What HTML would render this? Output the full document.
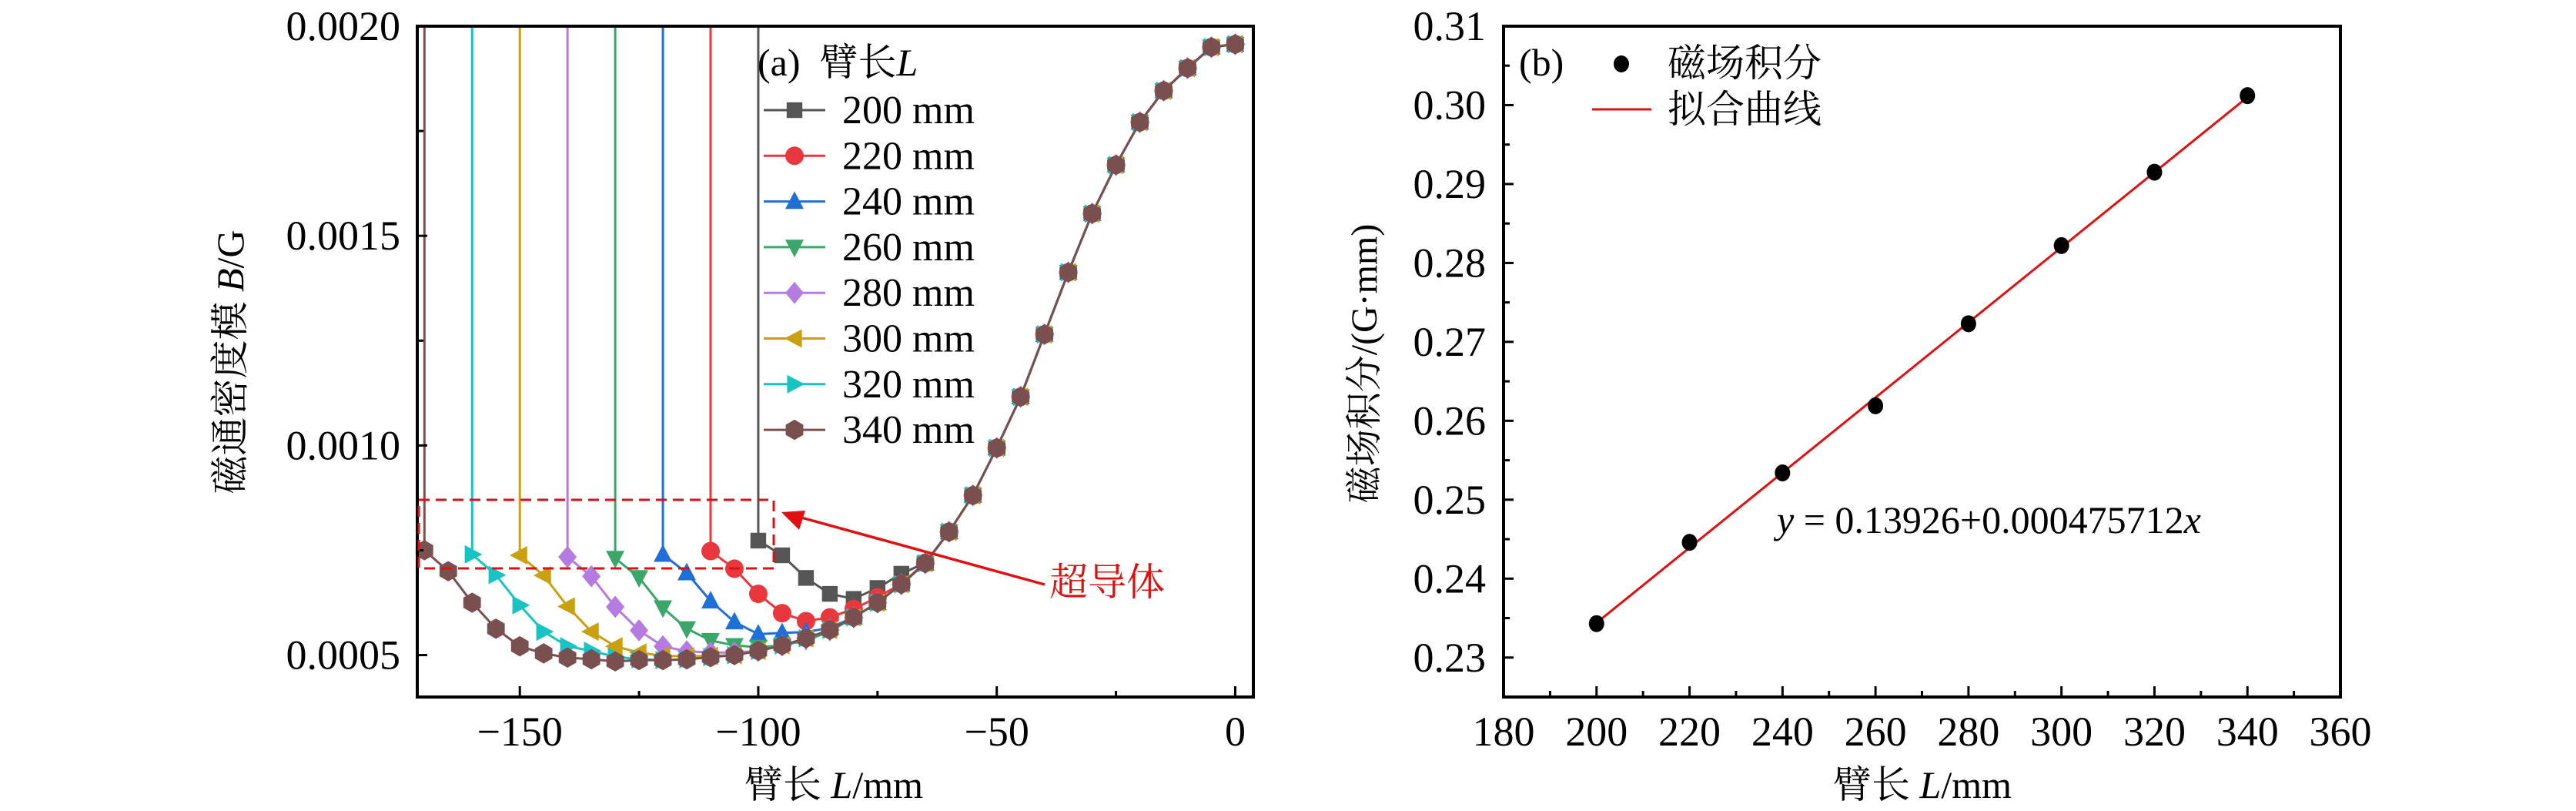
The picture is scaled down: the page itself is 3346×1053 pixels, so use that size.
<!DOCTYPE html>
<html><head><meta charset="utf-8"><style>
html,body{margin:0;padding:0;background:#fff;}
svg{display:block;font-family:"Liberation Serif","Noto Serif CJK SC",serif;}
</style></head><body>
<svg id="chart" width="3346" height="1053" viewBox="0 0 3346 1053" xmlns="http://www.w3.org/2000/svg">
<g id="panelA"></g>
<g id="panelB"></g>
</svg>
<script>
// ---------- Panel (a) data ----------
const armLengths = [200, 220, 240, 260, 280, 300, 320, 340];
const startX = [-100, -110, -120, -130, -140, -150, -160, -170];
const tailValues = [0.000794, 0.000881, 0.000994, 0.001116, 0.001265, 0.001413, 0.001553, 0.001669, 0.001771, 0.001846, 0.0019, 0.00195, 0.001957];
const head200 = [0.000773, 0.000738, 0.000684, 0.000646, 0.000634, 0.00066, 0.000694, 0.00072];
const head220 = [0.000748, 0.000706, 0.000646, 0.0006, 0.000581, 0.00059, 0.00061, 0.000638, 0.00067, 0.00072];
const head240 = [0.00074, 0.000696, 0.000629, 0.000579, 0.00055, 0.000553, 0.000555, 0.000565, 0.00059, 0.000625, 0.000669, 0.000719];
const head260 = [0.000731, 0.000685, 0.000613, 0.000563, 0.000535, 0.000523, 0.000519, 0.000523, 0.000535, 0.000556, 0.00059, 0.000625, 0.000669, 0.000719];
const head280 = [0.000734, 0.000688, 0.000615, 0.000559, 0.000521, 0.000509, 0.000506, 0.000506, 0.00051, 0.000523, 0.00054, 0.00056, 0.00059, 0.000625, 0.000669, 0.000719];
const head300 = [0.000738, 0.00069, 0.000616, 0.000556, 0.000521, 0.000506, 0.000498, 0.000497, 0.000498, 0.0005, 0.00051, 0.000523, 0.00054, 0.00056, 0.00059, 0.000625, 0.000669, 0.000719];
const head320 = [0.00074, 0.000691, 0.000619, 0.000556, 0.000521, 0.00051, 0.000496, 0.00049, 0.000488, 0.00049, 0.000495, 0.0005, 0.00051, 0.000523, 0.00054, 0.00056, 0.00059, 0.000625, 0.000669, 0.000719];
const head340 = [0.00075, 0.0007, 0.000625, 0.000563, 0.000521, 0.000504, 0.000494, 0.00049, 0.000485, 0.000488, 0.000488, 0.00049, 0.000495, 0.0005, 0.00051, 0.000523, 0.00054, 0.00056, 0.00059, 0.000625, 0.000669, 0.000719];
const xTicksA = [-150, -100, -50, 0];
const xTickLabelsA = ["\u2212150", "\u2212100", "\u221250", "0"];
const yTicksA = [0.0005, 0.0010, 0.0015, 0.0020];
const yTickLabelsA = ["0.0005", "0.0010", "0.0015", "0.0020"];
// ---------- Panel (b) data ----------
const lengthsB = [200, 220, 240, 260, 280, 300, 320, 340];
const integralB = [0.2343, 0.2446, 0.2534, 0.2619, 0.2723, 0.2822, 0.2915, 0.3012];
const fitIntercept = 0.13926;
const fitSlope = 0.000475712;
const xTicksB = [180, 200, 220, 240, 260, 280, 300, 320, 340, 360];
const yTicksB = [0.23, 0.24, 0.25, 0.26, 0.27, 0.28, 0.29, 0.30, 0.31];
const yTickLabelsB = ["0.23", "0.24", "0.25", "0.26", "0.27", "0.28", "0.29", "0.30", "0.31"];

const NS = "http://www.w3.org/2000/svg";
function mk(parent, tag, attrs, text) {
  const e = document.createElementNS(NS, tag);
  for (const k in attrs) e.setAttribute(k, attrs[k]);
  if (text !== undefined) e.textContent = text;
  parent.appendChild(e);
  return e;
}

// ========== Panel A ==========
const A = document.getElementById('panelA');
const aL = 542, aR = 1628, aT = 34, aB = 905;
const axMin = -171.5, axMax = 3.8, ayMin = 0.0004, ayMax = 0.0020;
const xA = v => aL + (v - axMin) / (axMax - axMin) * (aR - aL);
const yA = v => aB - (v - ayMin) / (ayMax - ayMin) * (aB - aT);
const colors = ["#555555", "#e8383d", "#1f6fd8", "#3aa66a", "#b57be0", "#c9a010", "#18c3c3", "#7a4f4f"];
const shapes = ["square", "circle", "up", "down", "diamond", "left", "right", "hex"];
const heads = [head200, head220, head240, head260, head280, head300, head320, head340];

function marker(parent, shape, cx, cy, color, r) {
  let e;
  if (shape === "square") e = mk(parent, 'rect', {x: cx - r * 0.85, y: cy - r * 0.85, width: r * 1.7, height: r * 1.7, fill: color});
  else if (shape === "circle") e = mk(parent, 'circle', {cx: cx, cy: cy, r: r, fill: color});
  else {
    let pts;
    if (shape === "up") pts = [[0, -1.1], [1, 0.8], [-1, 0.8]];
    if (shape === "down") pts = [[0, 1.1], [1, -0.8], [-1, -0.8]];
    if (shape === "left") pts = [[-1.1, 0], [0.8, -1], [0.8, 1]];
    if (shape === "right") pts = [[1.1, 0], [-0.8, -1], [-0.8, 1]];
    if (shape === "diamond") pts = [[0, -1.2], [1, 0], [0, 1.2], [-1, 0]];
    if (shape === "hex") pts = [[0, -1.1], [0.95, -0.55], [0.95, 0.55], [0, 1.1], [-0.95, 0.55], [-0.95, -0.55]];
    e = mk(parent, 'polygon', {points: pts.map(p => (cx + p[0] * r) + ',' + (cy + p[1] * r)).join(' '), fill: color});
  }
  return e;
}

armLengths.forEach((L, i) => {
  const g = mk(A, 'g', {});
  
  
  const vals = heads[i].concat(tailValues);
  const pts = vals.map((v, j) => [xA(startX[i] + 5 * j), yA(v)]);
  const vl = mk(g, 'line', {x1: xA(startX[i]), y1: aT, x2: xA(startX[i]), y2: pts[0][1], stroke: colors[i], 'stroke-width': 3});
  
  
  const pl = mk(g, 'polyline', {points: pts.map(p => p.join(',')).join(' '), fill: 'none', stroke: colors[i], 'stroke-width': 3});
  
  
  pts.forEach((p, j) => {
    const m = marker(g, shapes[i], p[0], p[1], colors[i], 12);
    
    
  });
});

const frA = mk(A, 'rect', {x: aL, y: aT, width: aR - aL, height: aB - aT, fill: 'none', stroke: '#000', 'stroke-width': 4});


xTicksA.forEach((t, i) => {
  mk(A, 'line', {x1: xA(t), y1: aB, x2: xA(t), y2: aB - 14, stroke: '#000', 'stroke-width': 3});
  if (t - 25 >= axMin) mk(A, 'line', {x1: xA(t - 25), y1: aB, x2: xA(t - 25), y2: aB - 8, stroke: '#000', 'stroke-width': 3});
  const tl = mk(A, 'text', {x: xA(t), y: 968, 'font-size': 54, 'text-anchor': 'middle'}, xTickLabelsA[i]);
  
  
});
yTicksA.forEach((t, i) => {
  mk(A, 'line', {x1: aL, y1: yA(t), x2: aL + 13, y2: yA(t), stroke: '#000', 'stroke-width': 3});
  if (t < 0.002) mk(A, 'line', {x1: aL, y1: yA(t + 0.00025), x2: aL + 8, y2: yA(t + 0.00025), stroke: '#000', 'stroke-width': 3});
  const tl = mk(A, 'text', {x: 520, y: yA(t) + 18, 'font-size': 54, 'text-anchor': 'end'}, yTickLabelsA[i]);
  
  
});
const lgA = mk(A, 'g', {});


const lh = mk(lgA, 'text', {x: 984, y: 98, 'font-size': 50}, '');
lh.innerHTML = '(a)&#160;&#160;臂长<tspan font-style="italic">L</tspan>';


armLengths.forEach((L, i) => {
  const y = 143 + i * 59.3;
  const ge = mk(lgA, 'g', {});
  
  
  mk(ge, 'line', {x1: 992, y1: y, x2: 1072, y2: y, stroke: colors[i], 'stroke-width': 3});
  marker(ge, shapes[i], 1032, y, colors[i], 12);
  mk(ge, 'text', {x: 1094, y: y + 17, 'font-size': 52}, L + ' mm');
});
const sc = mk(A, 'rect', {x: 544, y: 649, width: 461, height: 89, fill: 'none', stroke: '#e01010', 'stroke-width': 3, 'stroke-dasharray': '14,8'});


const ar = mk(A, 'line', {x1: 1357, y1: 759, x2: 1030, y2: 669, stroke: '#e01010', 'stroke-width': 3.5});


mk(A, 'polygon', {points: '1015,665 1046,663 1038,688', fill: '#e01010'});
const st = mk(A, 'text', {x: 1363, y: 773, 'font-size': 50, fill: '#e01010'}, '超导体');


const yta = mk(A, 'text', {x: 0, y: 0, 'font-size': 50, 'text-anchor': 'middle', transform: 'translate(316,470) rotate(-90)'}, '');
yta.innerHTML = '磁通密度模&#160;<tspan font-style="italic">B</tspan>/G';


const xta = mk(A, 'text', {x: 1083, y: 1036, 'font-size': 50, 'text-anchor': 'middle'}, '');
xta.innerHTML = '臂长&#160;<tspan font-style="italic">L</tspan>/mm';



// ========== Panel B ==========
const B = document.getElementById('panelB');
const bL = 1953, bR = 3040, bT = 34, bB = 905;
const bxMin = 180, bxMax = 360, byMin = 0.225, byMax = 0.31;
const xB = v => bL + (v - bxMin) / (bxMax - bxMin) * (bR - bL);
const yB = v => bB - (v - byMin) / (byMax - byMin) * (bB - bT);
const fx0 = lengthsB[0], fx1 = lengthsB[lengthsB.length - 1];
const fit = mk(B, 'line', {x1: xB(fx0), y1: yB(fitIntercept + fitSlope * fx0), x2: xB(fx1), y2: yB(fitIntercept + fitSlope * fx1), stroke: '#e01010', 'stroke-width': 3});


lengthsB.forEach((L, i) => {
  const p = mk(B, 'ellipse', {cx: xB(L), cy: yB(integralB[i]), rx: 10, ry: 11, fill: '#000'});
  
  
});
const frB = mk(B, 'rect', {x: bL, y: bT, width: bR - bL, height: bB - bT, fill: 'none', stroke: '#000', 'stroke-width': 4});


xTicksB.forEach(t => {
  mk(B, 'line', {x1: xB(t), y1: bB, x2: xB(t), y2: bB - 14, stroke: '#000', 'stroke-width': 3});
  if (t < 360) mk(B, 'line', {x1: xB(t + 10), y1: bB, x2: xB(t + 10), y2: bB - 8, stroke: '#000', 'stroke-width': 3});
  const tl = mk(B, 'text', {x: xB(t), y: 968, 'font-size': 54, 'text-anchor': 'middle'}, String(t));
  
  
});
yTicksB.forEach((t, i) => {
  mk(B, 'line', {x1: bL, y1: yB(t), x2: bL + 13, y2: yB(t), stroke: '#000', 'stroke-width': 3});
  mk(B, 'line', {x1: bL, y1: yB(t - 0.005), x2: bL + 8, y2: yB(t - 0.005), stroke: '#000', 'stroke-width': 3});
  const tl = mk(B, 'text', {x: 1930, y: yB(t) + 18, 'font-size': 54, 'text-anchor': 'end'}, yTickLabelsB[i]);
  
  
});
const lgB = mk(B, 'g', {});


mk(lgB, 'text', {x: 1973, y: 98, 'font-size': 50}, '(b)');
mk(lgB, 'ellipse', {cx: 2106, cy: 83, rx: 10, ry: 11, fill: '#000'});
mk(lgB, 'text', {x: 2166, y: 99, 'font-size': 50}, '磁场积分');
mk(lgB, 'line', {x1: 2068, y1: 142, x2: 2145, y2: 142, stroke: '#e01010', 'stroke-width': 3});
mk(lgB, 'text', {x: 2166, y: 159, 'font-size': 50}, '拟合曲线');
const eq = mk(B, 'text', {x: 2308, y: 692, 'font-size': 50}, '');
eq.innerHTML = '<tspan font-style="italic">y</tspan> = 0.13926+0.000475712<tspan font-style="italic">x</tspan>';


const ytb = mk(B, 'text', {x: 0, y: 0, 'font-size': 48, 'text-anchor': 'middle', transform: 'translate(1788,472) rotate(-90)'}, '磁场积分/(G·mm)');


const xtb = mk(B, 'text', {x: 2497, y: 1036, 'font-size': 50, 'text-anchor': 'middle'}, '');
xtb.innerHTML = '臂长&#160;<tspan font-style="italic">L</tspan>/mm';


</script>
</body></html>
